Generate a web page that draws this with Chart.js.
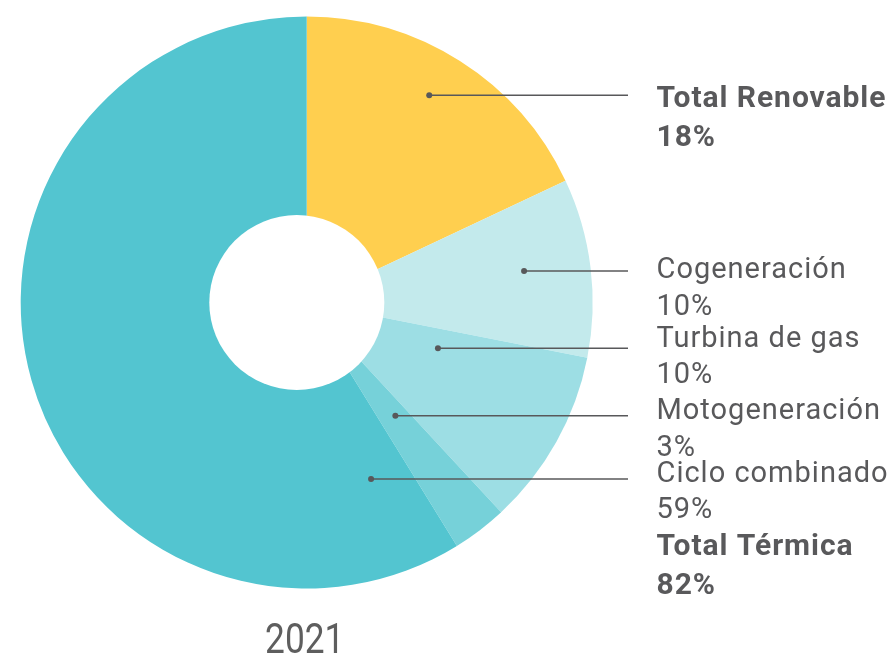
<!DOCTYPE html>
<html>
<head>
<meta charset="utf-8">
<script src="https://cdn.jsdelivr.net/npm/chart.js@4"></script>
<style>
    html, body { margin: 0; padding: 0; background: #fff; }
    #wrap { width: 892px; height: 661px; }
</style>
</head>
<body>
<div id="wrap"><canvas id="mixChart" width="892" height="661"></canvas></div>
<script>
let categories = ['Total Renovable', 'Cogeneración', 'Turbina de gas', 'Motogeneración', 'Ciclo combinado'];
let shares = [18.0, 10.1, 10.0, 3.1, 58.8];
let thermalIdx = [1, 2, 3, 4];
let thermalTitle = 'Total Térmica';
let yearLabel = '2021';

let sliceColors = ['#ffcf4f', '#c3eaec', '#9ddee4', '#76d1d9', '#53c5d0'];
let textColor = '#59595b';

// leader dot inside each slice: share of the sweep, share of the radius
let dotSweep = [0.472, 0.466, 0.224, 0.43, 0.055];
let dotRadius = [0.842, 0.768, 0.486, 0.503, 0.657];
// first-line baselines of the label blocks (last one is Total Térmica)
let blockBaseline = [106.7, 278.3, 346.7, 419, 481.7, 555];

let lineEndX = 628;
let textX = 656.5;

let pct = v => Math.round(v) + '%';

let labelPlugin = {
    id: 'labels',
    afterDatasetsDraw(chart) {
        let ctx = chart.ctx;
        let arcs = chart.getDatasetMeta(0).data;
        let cx = arcs[0].x, cy = arcs[0].y, R = arcs[0].outerRadius;

        ctx.save();
        // the hole sits a little left of centre in the original artwork
        ctx.fillStyle = '#fff';
        ctx.beginPath();
        ctx.arc(cx - 0.0346 * R, cy, 0.306 * R, 0, Math.PI * 2);
        ctx.fill();

        // leader lines
        ctx.strokeStyle = '#58585a';
        ctx.fillStyle = '#58585a';
        ctx.lineWidth = 1.6;
        arcs.forEach((arc, i) => {
            let a = arc.startAngle + dotSweep[i] * (arc.endAngle - arc.startAngle);
            let r = dotRadius[i] * R;
            let px = cx + r * Math.cos(a);
            let py = cy + r * Math.sin(a);
            ctx.beginPath();
            ctx.moveTo(px, py);
            ctx.lineTo(lineEndX, py);
            ctx.stroke();
            ctx.beginPath();
            ctx.arc(px, py, 3, 0, Math.PI * 2);
            ctx.fill();
        });

        // label blocks
        ctx.fillStyle = textColor;
        ctx.textAlign = 'left';
        ctx.textBaseline = 'alphabetic';
        let block = (title, value, y, bold) => {
            ctx.font = bold ? 'bold 30px Roboto' : '29px Roboto';
            ctx.letterSpacing = bold ? '0.95px' : '1px';
            ctx.fillText(title, textX, y);
            ctx.fillText(value, textX, y + (bold ? 39 : 36.7));
        };
        categories.forEach((name, i) => block(name, pct(shares[i]), blockBaseline[i], i === 0));
        let thermal = thermalIdx.reduce((s, i) => s + shares[i], 0);
        block(thermalTitle, pct(thermal), blockBaseline[5], true);

        // year under the ring
        ctx.letterSpacing = '0px';
        ctx.font = '43px Roboto';
        ctx.fillStyle = '#5e5e5e';
        ctx.textAlign = 'center';
        ctx.translate(cx - 2, 652.7);
        ctx.scale(0.82, 1);
        ctx.fillText(yearLabel, 0, 0);
        ctx.restore();
    }
};

let mixChart = new Chart(document.getElementById('mixChart').getContext('2d'), {
    type: 'pie',
    data: {
        labels: categories,
        datasets: [{
            data: shares,
            backgroundColor: sliceColors,
            borderWidth: 0,
            hoverOffset: 0
        }]
    },
    options: {
        responsive: false,
        animation: false,
        events: [],
        layout: {
            padding: { left: 20.7, top: 16.5, right: 299.3, bottom: 72.5 }
        },
        plugins: {
            legend: { display: false },
            tooltip: { enabled: false }
        }
    },
    plugins: [labelPlugin]
});
</script>
</body>
</html>
